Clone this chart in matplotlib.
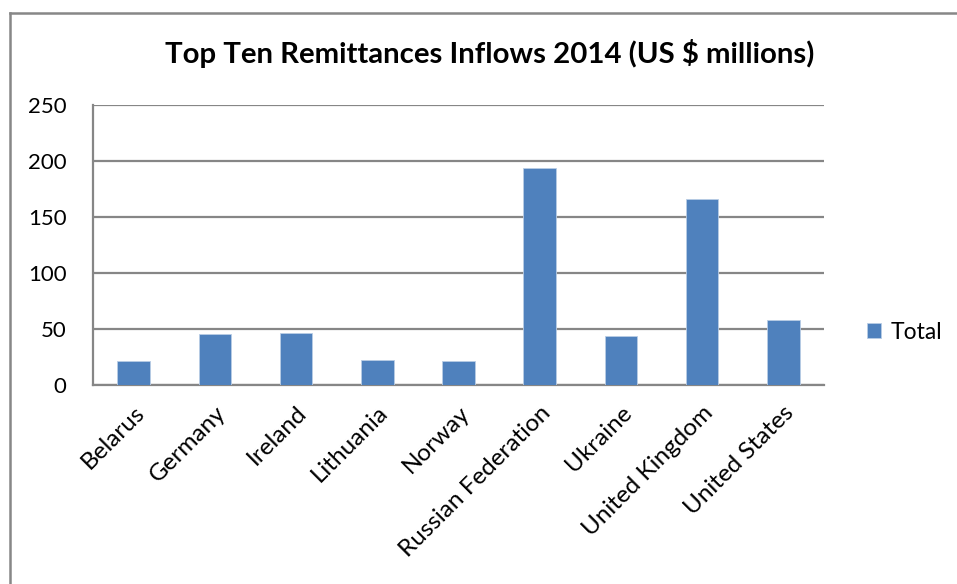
import matplotlib
matplotlib.use("Agg")
import numpy as np
import matplotlib.pyplot as plt
from matplotlib.lines import Line2D

plt.rcParams['font.family'] = ['Lato', 'DejaVu Sans']

countries = ["Belarus", "Germany", "Ireland", "Lithuania", "Norway",
             "Russian Federation", "Ukraine", "United Kingdom", "United States"]
totals = [21.7, 45.5, 46.7, 22.6, 22.0, 194.0, 44.3, 166.0, 58.6]
yticks = [0, 50, 100, 150, 200, 250]

W, H = 957, 584
fig = plt.figure(figsize=(W / 100.0, H / 100.0), dpi=100)

# outer chart border (left and top edges visible)
fig.add_artist(Line2D([10 / W, 10 / W], [0, 1 - 13.0 / H], transform=fig.transFigure,
                      color="#878787", linewidth=1.8))
fig.add_artist(Line2D([10 / W, 1], [1 - 13.0 / H, 1 - 13.0 / H], transform=fig.transFigure,
                      color="#878787", linewidth=1.8))

ax = fig.add_axes([93.0 / W, 1 - 385.3 / H, (824 - 93.0) / W, (385.3 - 105.3) / H])
x = np.arange(len(countries))
ax.bar(x, totals, width=0.40, color="#4f81bd", edgecolor="#b9cde5",
       linewidth=0.6, label="Total", zorder=3)

ax.set_xlim(-0.5, len(countries) - 0.5)
ax.set_ylim(0, 250)
ax.set_yticks(yticks)
ax.set_yticklabels([str(v) for v in yticks], fontsize=16)
ax.set_xticks(x)
ax.set_xticklabels(countries, rotation=45, ha="right", rotation_mode="anchor",
                   fontsize=17.5)
ax.tick_params(axis="x", length=0, pad=12)
ax.tick_params(axis="y", length=0, pad=19)
ax.grid(axis="y", color="#868686", linewidth=1.6, zorder=0)
for s in ["top", "right"]:
    ax.spines[s].set_visible(False)
ax.spines["left"].set_color("#868686")
ax.spines["bottom"].set_color("#868686")
ax.spines["left"].set_linewidth(1.6)
ax.spines["bottom"].set_linewidth(1.6)

fig.text(490.0 / W, 1 - 54.0 / H, "Top Ten Remittances Inflows 2014 (US $ millions)",
         ha="center", va="center", fontsize=21.2, fontweight="bold")

ax.legend(loc="center left", bbox_to_anchor=(1.03, 0.19), frameon=False,
          fontsize=16.5, handlelength=0.65, handleheight=0.65, handletextpad=0.4)

fig.savefig("out.png", dpi=100)
